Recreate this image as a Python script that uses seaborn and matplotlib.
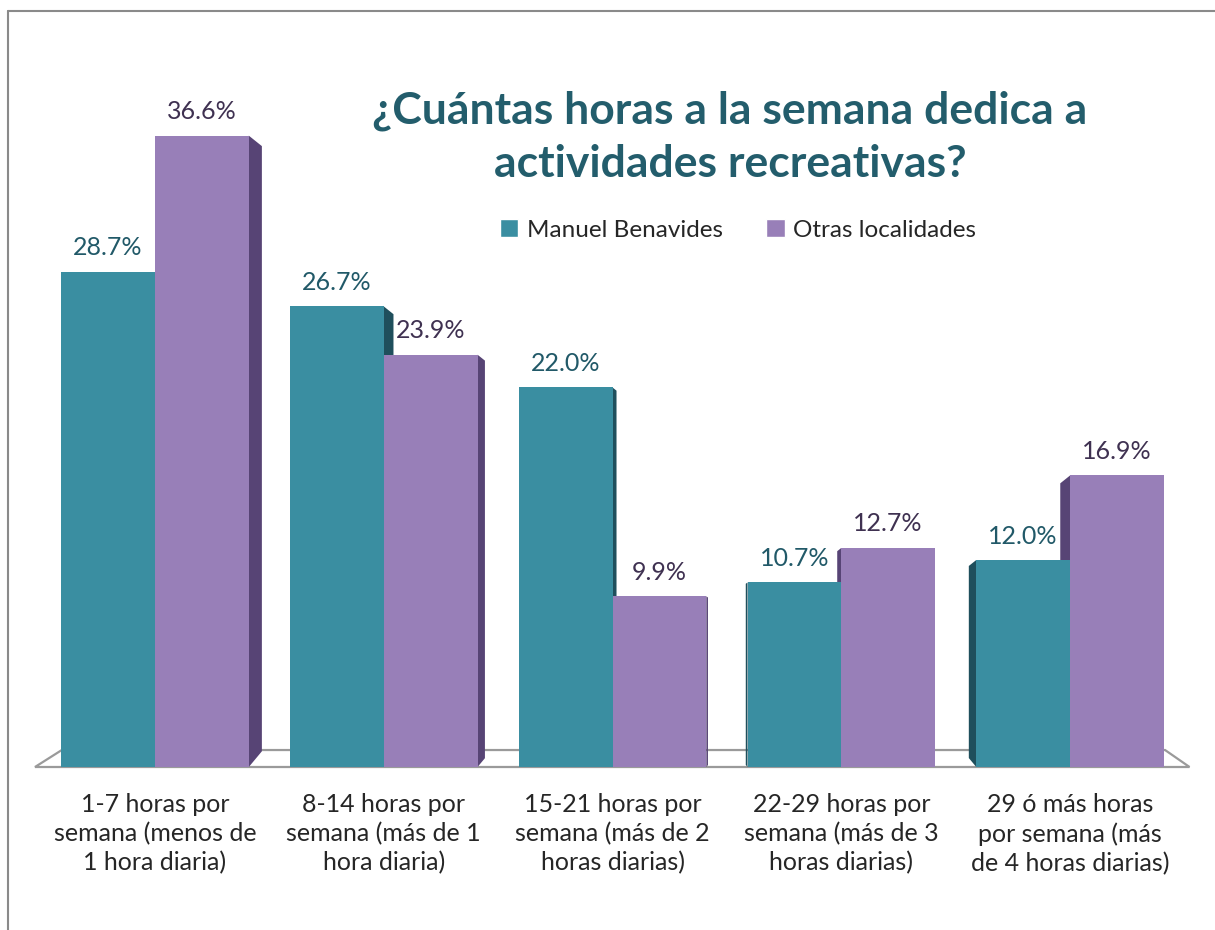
import pandas as pd
import seaborn as sns
import matplotlib.pyplot as plt
from matplotlib.patches import Patch, Polygon

# data
categorias = [
    "1-7 horas por\nsemana (menos de\n1 hora diaria)",
    "8-14 horas por\nsemana (más de 1\nhora diaria)",
    "15-21 horas por\nsemana (más de 2\nhoras diarias)",
    "22-29 horas por\nsemana (más de 3\nhoras diarias)",
    "29 ó más horas\npor semana (más\nde 4 horas diarias)",
]
series = ["Manuel Benavides", "Otras localidades"]
manuel_benavides = [28.7, 26.7, 22.0, 10.7, 12.0]
otras_localidades = [36.6, 23.9, 9.9, 12.7, 16.9]

colores = ["#3A8EA1", "#987FB8"]
colores_lado = ["#1F4F5C", "#574475"]
colores_etiqueta = ["#215968", "#3F3151"]

df = pd.DataFrame({
    "categoria": categorias * 2,
    "serie": [series[0]] * 5 + [series[1]] * 5,
    "valor": manuel_benavides + otras_localidades,
})

sns.set_style("white")
plt.rcParams["font.family"] = ["Lato", "DejaVu Sans"]

fig = plt.figure(figsize=(12.15, 9.3), dpi=100)
ax = fig.add_axes([35 / 1215, 163 / 930, 1165 / 1215, 690 / 930])

sns.barplot(data=df, x="categoria", y="valor", hue="serie", palette=colores,
            width=0.82, gap=0, saturation=1, legend=False, ax=ax, zorder=3,
            linewidth=0, edgecolor="none")

ax.set_xlim(-0.5246, 4.568)
ax.set_ylim(0, 40)
ax.set_yticks([])
ax.set_xlabel("")
ax.set_ylabel("")
sns.despine(ax=ax, left=True, bottom=True)
ax.tick_params(axis="x", length=0, pad=19)
ax.set_xticks(range(5))
ax.set_xticklabels(categorias, fontsize=18, linespacing=1.3)

# fake 3D floor
piso = Polygon([(0, 0), (0.991, 0), (0.970, 0.0246), (0.023, 0.0246)],
               closed=True, transform=ax.transAxes, facecolor="white",
               edgecolor="#9a9a9a", lw=1.6, zorder=1, clip_on=False)
ax.add_patch(piso)

# side faces of the bars, depth grows away from the vanishing point
px_x = 228.75
px_y = 17.25
vp = (725 - 155) / px_x
for i, cont in enumerate(ax.containers):
    for bar in cont:
        x0 = bar.get_x()
        w = bar.get_width()
        h = bar.get_height()
        c = x0 + w / 2
        d = -(c - vp) * px_x * 0.025
        xe = x0 + w if d > 0 else x0
        dx = d / px_x
        caida = abs(d) * 0.8 / px_y
        suelo = abs(d) * 1.2 / px_y
        lado = Polygon([(xe, h), (xe + dx, h - caida), (xe + dx, suelo), (xe, 0)],
                       closed=True, facecolor=colores_lado[i], edgecolor="none",
                       zorder=2, clip_on=False)
        ax.add_patch(lado)
    ax.bar_label(cont, labels=[f"{v:.1f}%" for v in cont.datavalues],
                 padding=9, fontsize=18, color=colores_etiqueta[i])

fig.text(730 / 1215, 1 - 137 / 930,
         "¿Cuántas horas a la semana dedica a\nactividades recreativas?",
         ha="center", va="center", fontsize=32, fontweight="bold",
         color="#235D6C", linespacing=1.38)

handles = [Patch(facecolor=colores[0]), Patch(facecolor=colores[1])]
fig.legend(handles, series, loc="center", bbox_to_anchor=(738 / 1215, 1 - 230 / 930),
           ncol=2, frameon=False, fontsize=17.5, handlelength=0.75, handleheight=0.75,
           handletextpad=0.35, columnspacing=1.8)

# chart border (top and left visible)
fig.add_artist(plt.Line2D([8 / 1215, 8 / 1215], [0, 1 - 11 / 930],
                          transform=fig.transFigure, color="#8a8a8a", lw=1.5))
fig.add_artist(plt.Line2D([8 / 1215, 1], [1 - 11 / 930, 1 - 11 / 930],
                          transform=fig.transFigure, color="#8a8a8a", lw=1.5))

fig.savefig("out.png", dpi=100)
